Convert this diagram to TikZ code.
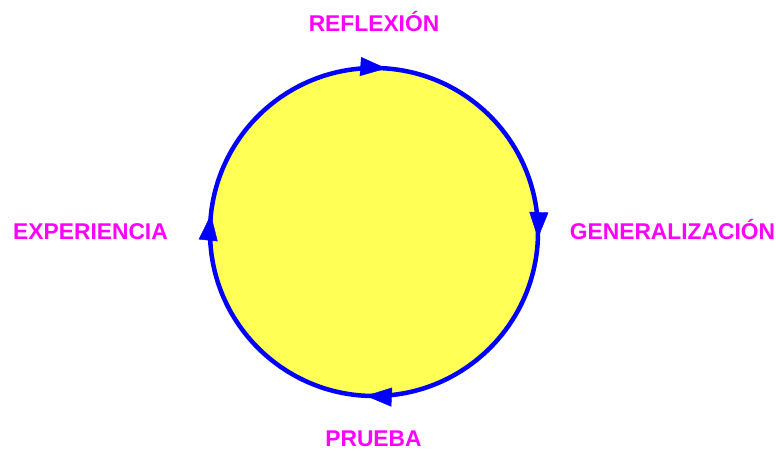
\documentclass[tikz,border=0pt]{standalone}
\usepackage{fontspec}
\setmainfont{Liberation Sans}
\usetikzlibrary{arrows.meta,decorations.markings}
\definecolor{cyell}{RGB}{255,255,85}
\definecolor{cblue}{RGB}{0,0,255}
\definecolor{cmag}{RGB}{255,0,255}
\begin{document}
\begin{tikzpicture}[x=1pt,y=1pt,
  lbl/.style={text=cmag,font=\bfseries\fontsize{22.8}{24}\selectfont,inner sep=0pt,anchor=base},
  ring/.style={circle,minimum size=328pt,inner sep=0pt,outer sep=0pt,fill=cyell,draw=cblue,line width=4.5pt},
  tips/.style={decoration={markings,
     mark=at position 0.017 with {\arrow{Triangle[length=26pt,width=19pt]}},
     mark=at position 0.262 with {\arrow{Triangle[length=26pt,width=19pt]}},
     mark=at position 0.506 with {\arrow{Triangle[length=26pt,width=19pt]}},
     mark=at position 0.758 with {\arrow{Triangle[length=26pt,width=19pt]}}},
     postaction=decorate}]
\useasboundingbox (0,0) rectangle (776,450);
\node[ring] (c) at (374,218) {};
\path[tips,cblue] (c.west) arc[start angle=180,end angle=-180,radius=164pt];
\node[lbl] (r) at (374,418) {REFLEXIÓN};
\node[lbl] (g) at (672.5,210) {GENERALIZACIÓN};
\node[lbl] (e) at (90.5,210) {EXPERIENCIA};
\node[lbl] (p) at (373.5,3.5) {PRUEBA};
\end{tikzpicture}
\end{document}
